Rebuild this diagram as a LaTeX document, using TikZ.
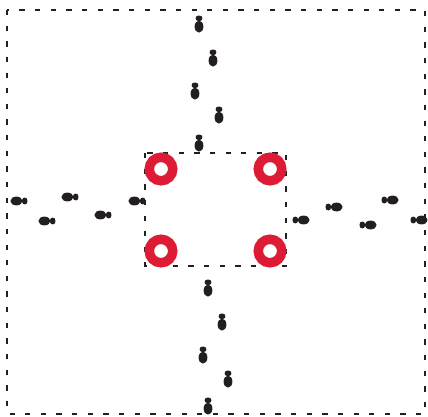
\documentclass[tikz,border=0pt]{standalone}
\usepackage{xcolor}
\usetikzlibrary{positioning}
\definecolor{ringred}{RGB}{222,27,52}
\definecolor{shoeblack}{RGB}{35,31,32}
\begin{document}
\begin{tikzpicture}[x=0.02cm, y=-0.02cm,
      border/.style={draw=shoeblack, line width=1.6pt, dash pattern=on 3pt off 5.9pt},
      ring/.style={circle, draw=ringred, fill=white, line width=0.19cm, inner sep=0pt,
                   minimum size=0.47cm, outer sep=0pt},
      shoeprint/.pic={
        \fill[shoeblack, rounded corners=1.5] (-3.4,-8.4) rectangle (3.4,-3);
        \fill[shoeblack] (0,2.6) ellipse [x radius=4.4, y radius=6];
      }]
    \useasboundingbox (0,0) rectangle (428,416);
    \draw[border] (7,10) rectangle (425,414);
    \draw[border] (145,153) rectangle (286,266);
    \node[ring] (nw) at (161,169) {};
    \node[ring] (ne) at (270,169) {};
    \node[ring] (sw) at (161,251) {};
    \node[ring] (se) at (270,251) {};
    % top and bottom trails
    \foreach \x/\y in {199/24, 213/58, 195/91, 219/115, 199/143,
                       208/288, 222/322, 203/355, 228/379, 208/406}
      \pic at (\x,\y) {shoeprint};
    % left trail
    \foreach \x/\y in {19/201, 47/221, 70/197, 103/215, 137/201}
      \pic[rotate=-90] at (\x,\y) {shoeprint};
    % right trail
    \foreach \x/\y in {301/220, 334/207, 368/225, 390/200, 419/220}
      \pic[rotate=90] at (\x,\y) {shoeprint};
\end{tikzpicture}
\end{document}
